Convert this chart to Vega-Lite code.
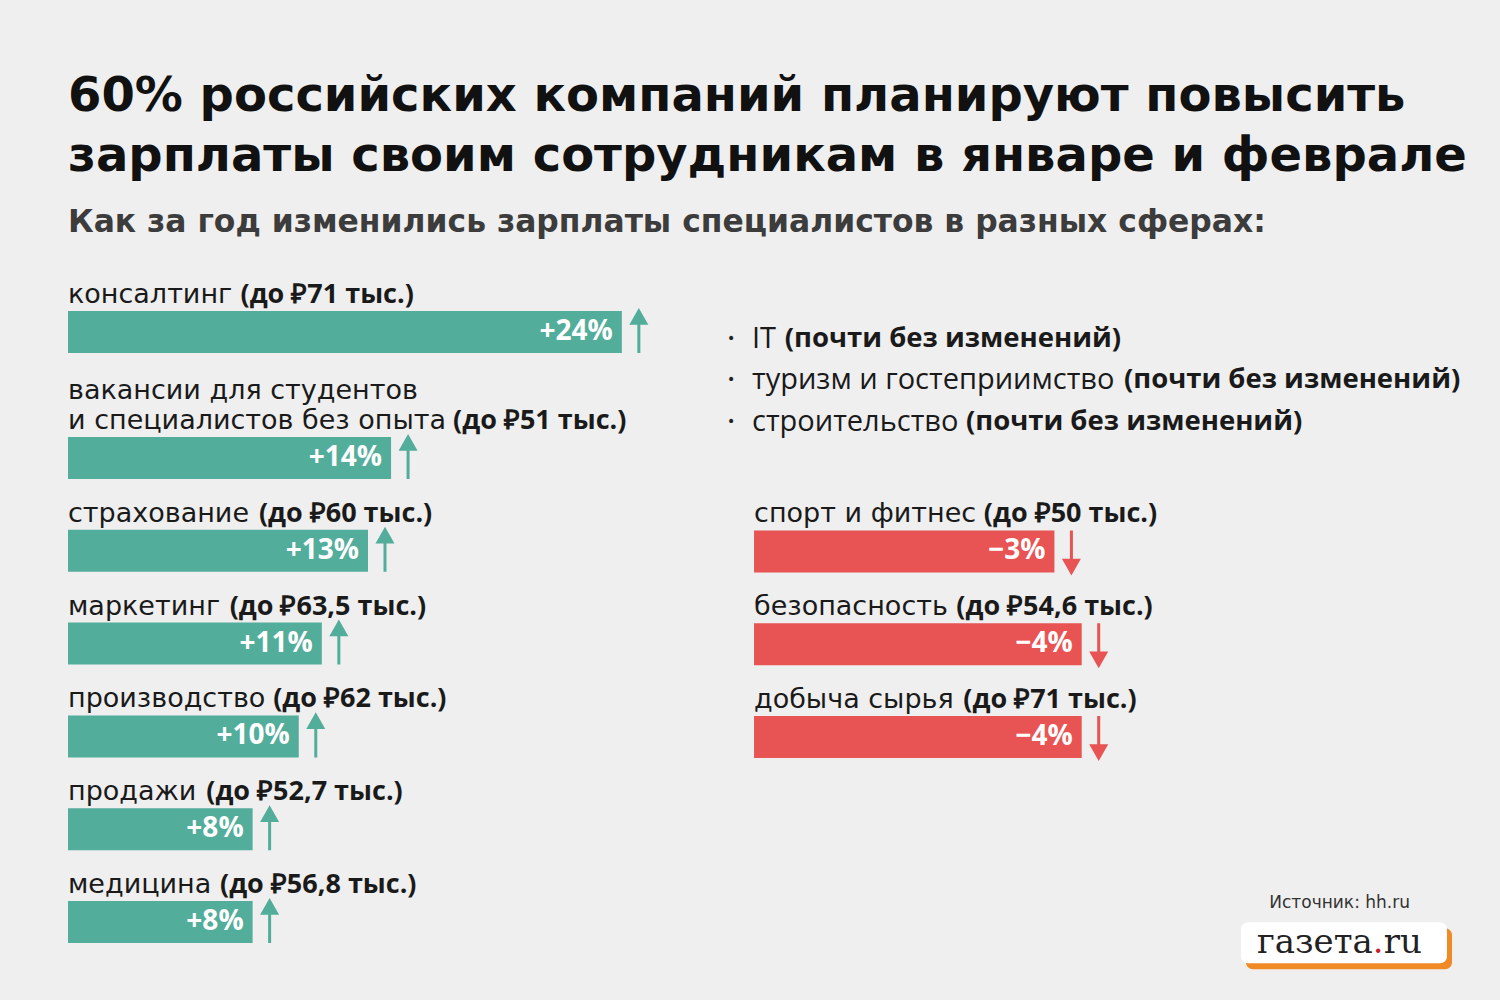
{
  "$schema": "https://vega.github.io/schema/vega-lite/v6.json",
  "background": "#efefef",
  "padding": {"left": 68, "top": 72, "right": 0, "bottom": 30},
  "config": {"view": {"stroke": null}},
  "title": {
    "text": ["60% российских компаний планируют повысить", "зарплаты своим сотрудникам в январе и феврале"],
    "subtitle": "Как за год изменились зарплаты специалистов в разных сферах:",
    "anchor": "start",
    "frame": "group",
    "font": "DejaVu Sans",
    "fontSize": 48,
    "fontWeight": "bold",
    "lineHeight": 60,
    "color": "#111111",
    "subtitleFont": "DejaVu Sans",
    "subtitleFontSize": 31.4,
    "subtitleFontWeight": "bold",
    "subtitleColor": "#3c3c3c",
    "subtitlePadding": 26,
    "offset": 41
  },
  "datasets": {
    "growth": [
      {"name": "консалтинг", "detail": "(до ₽71 тыс.)", "change": 0.24},
      {"name": "вакансии для студентов\nи специалистов без опыта", "detail": "(до ₽51 тыс.)", "change": 0.14},
      {"name": "страхование", "detail": "(до ₽60 тыс.)", "change": 0.13},
      {"name": "маркетинг", "detail": "(до ₽63,5 тыс.)", "change": 0.11},
      {"name": "производство", "detail": "(до ₽62 тыс.)", "change": 0.10},
      {"name": "продажи", "detail": "(до ₽52,7 тыс.)", "change": 0.08},
      {"name": "медицина", "detail": "(до ₽56,8 тыс.)", "change": 0.08}
    ],
    "decline": [
      {"name": "спорт и фитнес", "detail": "(до ₽50 тыс.)", "change": -0.03},
      {"name": "безопасность", "detail": "(до ₽54,6 тыс.)", "change": -0.04},
      {"name": "добыча сырья", "detail": "(до ₽71 тыс.)", "change": -0.04}
    ],
    "flat": [
      {"name": "IT", "detail": "(почти без изменений)"},
      {"name": "туризм и гостеприимство", "detail": "(почти без изменений)"},
      {"name": "строительство", "detail": "(почти без изменений)"}
    ]
  },
  "spacing": 0,
  "hconcat": [
    {
      "bounds": "flush",
      "spacing": 84,
      "vconcat": [
        {
          "width": 659,
          "height": 74,
          "data": {"name": "growth"},
          "transform": [{"filter": "datum.name === 'консалтинг'"}],
          "encoding": {
            "y": {"field": "name", "type": "nominal", "sort": null, "axis": null, "scale": {"type": "band", "paddingInner": 0, "paddingOuter": 0.381, "align": 1}}
          },
          "layer": [
            {"mark": {"type": "bar", "color": "#53ad9b"},
             "encoding": {"x": {"field": "change", "type": "quantitative", "axis": null, "scale": {"domain": [0, 0.28557], "nice": false}}}},
            {"mark": {"type": "text", "align": "right", "baseline": "middle", "dx": -9, "color": "#ffffff", "font": "Open Sans", "fontSize": 28, "fontWeight": "bold"},
             "encoding": {"x": {"field": "change", "type": "quantitative"}, "text": {"field": "change", "type": "quantitative", "format": "+.0%"}}},
            {"mark": {"type": "point", "shape": "M0,1L0,-0.5M-0.33,-0.42L0,-1L0.33,-0.42Z", "size": 1764, "filled": true, "fill": "#53ad9b", "stroke": "#53ad9b", "strokeWidth": 3, "opacity": 1, "xOffset": 17},
             "encoding": {"x": {"field": "change", "type": "quantitative"}}},
            {"mark": {"type": "text", "align": "left", "baseline": "bottom", "font": "DejaVu Sans", "fontSize": 27, "lineHeight": 30, "lineBreak": "\n", "color": "#1a1a1a", "dy": {"expr": "-30 * (length(split(datum.name, '\\n')) - 1) - 2"}},
             "encoding": {"x": {"datum": 0}, "y": {"field": "name", "type": "nominal", "sort": null, "bandPosition": 0}, "text": {"field": "name", "type": "nominal"}}},
            {"mark": {"type": "text", "align": "left", "baseline": "bottom", "font": "Open Sans", "fontSize": 27, "fontWeight": "bold", "color": "#1a1a1a", "dy": -2,
                      "dx": {"expr": "17.2 * (length(peek(split(datum.name, '\\n'))) - 0.5 * length(replace(peek(split(datum.name, '\\n')), regexp('[^ ]', 'g'), '')) + 0.4 * length(replace(peek(split(datum.name, '\\n')), regexp('[^жшщюф]', 'g'), '')) + 0.3 * length(replace(peek(split(datum.name, '\\n')), regexp('[^ы]', 'g'), '')) + 0.2 * length(replace(peek(split(datum.name, '\\n')), regexp('[^м]', 'g'), '')) - 0.1 * length(replace(peek(split(datum.name, '\\n')), regexp('[^чьябвхку]', 'g'), '')) - 0.17 * length(replace(peek(split(datum.name, '\\n')), regexp('[^гтзсэ]', 'g'), ''))) + 11"}},
             "encoding": {"x": {"datum": 0}, "y": {"field": "name", "type": "nominal", "sort": null, "bandPosition": 0}, "text": {"field": "detail", "type": "nominal"}}}
          ]
        },
        {
          "width": 659,
          "height": 506,
          "data": {"name": "growth"},
          "transform": [{"filter": "datum.name !== 'консалтинг'"}],
          "encoding": {
            "y": {"field": "name", "type": "nominal", "sort": null, "axis": null, "scale": {"type": "band", "paddingInner": 0.5474, "paddingOuter": 0}}
          },
          "layer": [
            {"mark": {"type": "bar", "color": "#53ad9b"},
             "encoding": {"x": {"field": "change", "type": "quantitative", "axis": null, "scale": {"domain": [0, 0.28557], "nice": false}}}},
            {"mark": {"type": "text", "align": "right", "baseline": "middle", "dx": -9, "color": "#ffffff", "font": "Open Sans", "fontSize": 28, "fontWeight": "bold"},
             "encoding": {"x": {"field": "change", "type": "quantitative"}, "text": {"field": "change", "type": "quantitative", "format": "+.0%"}}},
            {"mark": {"type": "point", "shape": "M0,1L0,-0.5M-0.33,-0.42L0,-1L0.33,-0.42Z", "size": 1764, "filled": true, "fill": "#53ad9b", "stroke": "#53ad9b", "strokeWidth": 3, "opacity": 1, "xOffset": 17},
             "encoding": {"x": {"field": "change", "type": "quantitative"}}},
            {"mark": {"type": "text", "align": "left", "baseline": "bottom", "font": "DejaVu Sans", "fontSize": 27, "lineHeight": 30, "lineBreak": "\n", "color": "#1a1a1a", "dy": {"expr": "-30 * (length(split(datum.name, '\\n')) - 1) - 2"}},
             "encoding": {"x": {"datum": 0}, "y": {"field": "name", "type": "nominal", "sort": null, "bandPosition": 0}, "text": {"field": "name", "type": "nominal"}}},
            {"mark": {"type": "text", "align": "left", "baseline": "bottom", "font": "Open Sans", "fontSize": 27, "fontWeight": "bold", "color": "#1a1a1a", "dy": -2,
                      "dx": {"expr": "17.2 * (length(peek(split(datum.name, '\\n'))) - 0.5 * length(replace(peek(split(datum.name, '\\n')), regexp('[^ ]', 'g'), '')) + 0.4 * length(replace(peek(split(datum.name, '\\n')), regexp('[^жшщюф]', 'g'), '')) + 0.3 * length(replace(peek(split(datum.name, '\\n')), regexp('[^ы]', 'g'), '')) + 0.2 * length(replace(peek(split(datum.name, '\\n')), regexp('[^м]', 'g'), '')) - 0.1 * length(replace(peek(split(datum.name, '\\n')), regexp('[^чьябвхку]', 'g'), '')) - 0.17 * length(replace(peek(split(datum.name, '\\n')), regexp('[^гтзсэ]', 'g'), ''))) + 11"}},
             "encoding": {"x": {"datum": 0}, "y": {"field": "name", "type": "nominal", "sort": null, "bandPosition": 0}, "text": {"field": "detail", "type": "nominal"}}}
          ]
        }
      ]
    },
    {
      "bounds": "flush",
      "spacing": 32.625,
      "vconcat": [
        {
          "width": 773,
          "height": 163.55,
          "data": {"name": "flat"},
          "encoding": {
            "y": {"field": "name", "type": "nominal", "sort": null, "axis": null, "scale": {"type": "band", "paddingInner": 0, "paddingOuter": 0.4705, "align": 1}},
            "x": {"datum": 0, "type": "quantitative", "axis": null, "scale": {"domain": [0, 1], "nice": false}}
          },
          "layer": [
            {"mark": {"type": "text", "text": "•", "align": "left", "baseline": "middle", "font": "DejaVu Sans", "fontSize": 14, "color": "#222222"}},
            {"mark": {"type": "text", "align": "left", "baseline": "middle", "dx": 25, "font": "Open Sans", "fontSize": 29, "color": "#1a1a1a"},
             "encoding": {"text": {"field": "name", "type": "nominal"}}},
            {"mark": {"type": "text", "align": "left", "baseline": "middle", "font": "Open Sans", "fontSize": 27.5, "fontWeight": "bold", "color": "#1a1a1a",
                      "dx": {"expr": "25 + 16.7 * (length(datum.name) - 0.45 * length(replace(datum.name, regexp('[^ ]', 'g'), '')) + 0.35 * length(replace(datum.name, regexp('[^жшщыюфм]', 'g'), '')) - 0.17 * length(replace(datum.name, regexp('[^гтзсэ]', 'g'), '')) - 0.7 * length(replace(datum.name, regexp('[^I]', 'g'), ''))) + 11"}},
             "encoding": {"text": {"field": "detail", "type": "nominal"}}}
          ]
        },
        {
          "width": 737,
          "height": 413.2,
          "data": {"name": "decline"},
          "encoding": {
            "y": {"field": "name", "type": "nominal", "sort": null, "axis": null, "scale": {"type": "band", "paddingInner": 0.5474, "paddingOuter": 1, "align": 0.2954}}
          },
          "layer": [
            {"mark": {"type": "bar", "color": "#e85353"},
             "encoding": {"x": {"field": "change", "type": "quantitative", "axis": null, "scale": {"domain": [0.0899, -0.18], "nice": false, "zero": false}}, "x2": {"datum": 0.08}}},
            {"mark": {"type": "text", "align": "right", "baseline": "middle", "dx": -9, "color": "#ffffff", "font": "Open Sans", "fontSize": 28, "fontWeight": "bold"},
             "encoding": {"x": {"field": "change", "type": "quantitative"}, "text": {"field": "change", "type": "quantitative", "format": "+.0%"}}},
            {"mark": {"type": "point", "shape": "M0,-1L0,0.5M-0.33,0.42L0,1L0.33,0.42Z", "size": 1764, "filled": true, "fill": "#e85353", "stroke": "#e85353", "strokeWidth": 3, "opacity": 1, "xOffset": 17},
             "encoding": {"x": {"field": "change", "type": "quantitative"}}},
            {"mark": {"type": "text", "align": "left", "baseline": "bottom", "dy": -2, "font": "DejaVu Sans", "fontSize": 27, "color": "#1a1a1a"},
             "encoding": {"x": {"datum": 0.08}, "y": {"field": "name", "type": "nominal", "sort": null, "bandPosition": 0}, "text": {"field": "name", "type": "nominal"}}},
            {"mark": {"type": "text", "align": "left", "baseline": "bottom", "dy": -2, "font": "Open Sans", "fontSize": 27, "fontWeight": "bold", "color": "#1a1a1a",
                      "dx": {"expr": "17.2 * (length(datum.name) - 0.5 * length(replace(datum.name, regexp('[^ ]', 'g'), '')) + 0.4 * length(replace(datum.name, regexp('[^жшщюф]', 'g'), '')) + 0.3 * length(replace(datum.name, regexp('[^ы]', 'g'), '')) + 0.2 * length(replace(datum.name, regexp('[^м]', 'g'), '')) - 0.1 * length(replace(datum.name, regexp('[^чьябвхку]', 'g'), '')) - 0.17 * length(replace(datum.name, regexp('[^гтзсэ]', 'g'), ''))) + 11"}},
             "encoding": {"x": {"datum": 0.08}, "y": {"field": "name", "type": "nominal", "sort": null, "bandPosition": 0}, "text": {"field": "detail", "type": "nominal"}}}
          ]
        },
        {
          "width": 720,
          "height": 41,
          "title": {"text": "Источник: hh.ru", "anchor": "end", "dx": -42, "font": "DejaVu Sans", "fontSize": 17, "fontWeight": "normal", "color": "#333333", "offset": 10},
          "data": {"values": [{"brand": "газета.ru"}]},
          "layer": [
            {"mark": {"type": "rect", "color": "#f08a24", "cornerRadius": 7, "xOffset": 5, "x2Offset": 5, "yOffset": 6, "y2Offset": 6},
             "encoding": {
               "x": {"datum": 0.7139, "type": "quantitative", "axis": null, "scale": {"domain": [0, 1], "nice": false, "zero": false}},
               "x2": {"datum": 1},
               "y": {"datum": 0, "type": "quantitative", "axis": null, "scale": {"domain": [0, 1], "nice": false}},
               "y2": {"datum": 1}
             }},
            {"mark": {"type": "rect", "color": "#ffffff", "cornerRadius": 7},
             "encoding": {
               "x": {"datum": 0.7139, "type": "quantitative"},
               "x2": {"datum": 1},
               "y": {"datum": 0, "type": "quantitative"},
               "y2": {"datum": 1}
             }},
            {"mark": {"type": "text", "text": "газета", "align": "right", "baseline": "middle", "dx": 31, "font": "DejaVu Serif", "fontSize": 34, "color": "#222222"},
             "encoding": {"x": {"datum": 0.8538, "type": "quantitative"}}},
            {"mark": {"type": "text", "text": ".", "align": "left", "baseline": "middle", "dx": 31, "font": "DejaVu Serif", "fontSize": 34, "color": "#c8202a"},
             "encoding": {"x": {"datum": 0.8538, "type": "quantitative"}}},
            {"mark": {"type": "text", "text": "ru", "align": "left", "baseline": "middle", "dx": 42, "font": "DejaVu Serif", "fontSize": 34, "color": "#222222"},
             "encoding": {"x": {"datum": 0.8538, "type": "quantitative"}}}
          ]
        }
      ]
    }
  ]
}
